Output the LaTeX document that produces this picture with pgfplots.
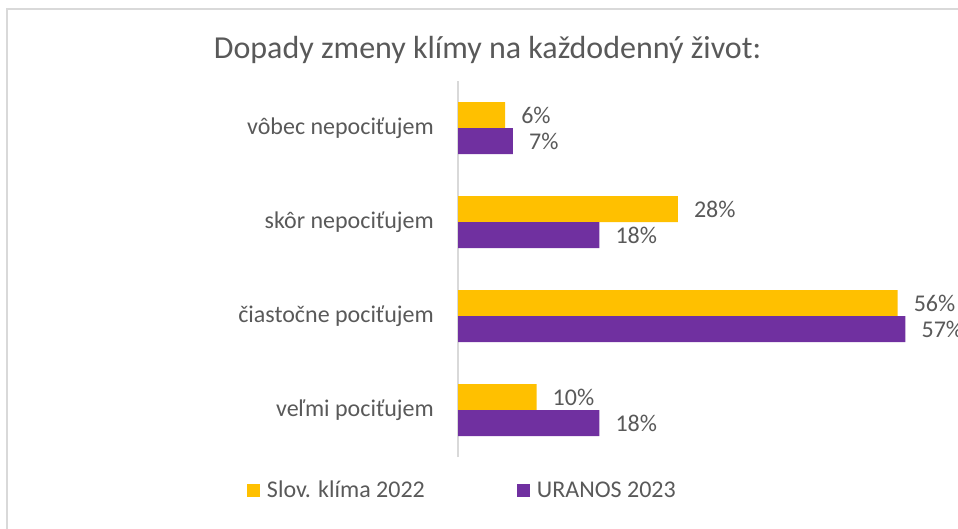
\documentclass[border=0pt]{standalone}
\usepackage{pgfplots}
\pgfplotsset{compat=1.18}
\usepackage{fontspec}
\setmainfont{Carlito}
\definecolor{cyel}{HTML}{FFC000}
\definecolor{cpur}{HTML}{7030A0}
\definecolor{ctxt}{HTML}{595959}
\definecolor{cfrm}{HTML}{D9D9D9}
\definecolor{caxis}{HTML}{D9D9D9}
\begin{document}
\begin{tikzpicture}
\useasboundingbox (0bp,0bp) rectangle (958bp,-529bp);
\draw[cfrm, line width=2.5bp] (7bp,-540bp) -- (7bp,-9bp) -- (970bp,-9bp);
\node[anchor=base, text=ctxt, font=\fontsize{32bp}{36bp}\selectfont, inner sep=0pt] at (487.5bp,-58bp) {Dopady zmeny klímy na každodenný život:};
\begin{axis}[
  at={(458bp,-457bp)}, anchor=south west,
  scale only axis, width=471bp, height=376bp,
  xmin=0, xmax=60, ymin=-0.5, ymax=3.5,
  axis x line=none,
  axis y line*=left,
  y axis line style={caxis, line width=1.5bp, -},
  ytick={0,1,2,3},
  yticklabels={veľmi pociťujem, čiastočne pociťujem, skôr nepociťujem, vôbec nepociťujem},
  major tick length=0pt,
  yticklabel style={text=ctxt, font=\fontsize{24bp}{28bp}\selectfont, inner sep=0pt, xshift=-24bp},
  xbar, bar width=26bp,
  clip=false,
  nodes near coords={\pgfplotspointmeta\%},
  nodes near coords style={anchor=west, inner sep=0pt, xshift=16bp, text=ctxt, font=\fontsize{24bp}{28bp}\selectfont},
  point meta=explicit symbolic,
  legend columns=2,
  legend style={at={(-0.448,-0.0878)}, anchor=west, draw=none, inner sep=0pt, outer sep=0pt, fill=none,
    font=\fontsize{24bp}{28bp}\selectfont, text=ctxt,
    nodes={inner sep=0pt},
    /tikz/every odd column/.append style={column sep=7bp},
    /tikz/every even column/.append style={column sep=92bp}},
  legend cell align=left,
  legend image code/.code={\fill[#1] (0bp,-6.5bp) rectangle (13bp,6.5bp);},
]
\addplot[fill=cyel, draw=none, bar shift=13bp] table[meta=l] {
x y l
10 0 10
56 1 56
28 2 28
6 3 6
};
\addlegendentry{Slov. klíma 2022}
\addplot[fill=cpur, draw=none, bar shift=-13bp] table[meta=l] {
x y l
18 0 18
57 1 57
18 2 18
7 3 7
};
\addlegendentry{URANOS 2023}
\end{axis}
\end{tikzpicture}
\end{document}
